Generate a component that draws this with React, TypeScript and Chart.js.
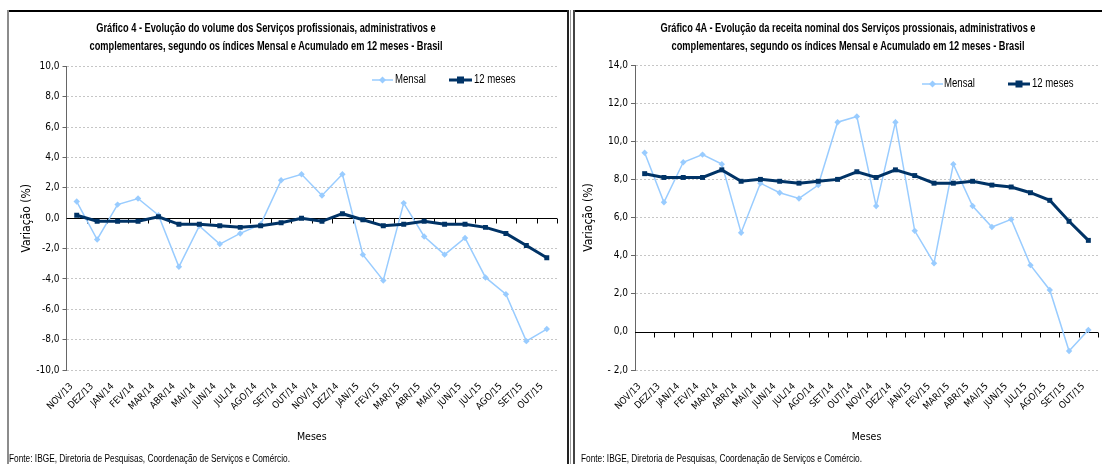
import React, { useEffect, useRef } from "react";
import { Chart, registerables } from "chart.js";

Chart.register(...registerables);

const FONT = "'DejaVu Sans Condensed', 'Liberation Sans', sans-serif";
const HTMLFONT = "'Liberation Sans', Arial, sans-serif";

const months = [
  "NOV/13", "DEZ/13", "JAN/14", "FEV/14", "MAR/14", "ABR/14", "MAI/14", "JUN/14",
  "JUL/14", "AGO/14", "SET/14", "OUT/14", "NOV/14", "DEZ/14", "JAN/15", "FEV/15",
  "MAR/15", "ABR/15", "MAI/15", "JUN/15", "JUL/15", "AGO/15", "SET/15", "OUT/15",
];

// Gráfico 4 - volume
const volumeMensal = [1.1, -1.4, 0.9, 1.3, 0.2, -3.2, -0.5, -1.7, -1.0, -0.4, 2.5, 2.9, 1.5, 2.9, -2.4, -4.1, 1.0, -1.2, -2.4, -1.3, -3.9, -5.0, -8.1, -7.3];
const volume12m = [0.2, -0.2, -0.2, -0.2, 0.1, -0.4, -0.4, -0.5, -0.6, -0.5, -0.3, 0.0, -0.2, 0.3, -0.1, -0.5, -0.4, -0.2, -0.4, -0.4, -0.6, -1.0, -1.8, -2.6];

// Gráfico 4A - receita nominal
const receitaMensal = [9.4, 6.8, 8.9, 9.3, 8.8, 5.2, 7.8, 7.3, 7.0, 7.7, 11.0, 11.3, 6.6, 11.0, 5.3, 3.6, 8.8, 6.6, 5.5, 5.9, 3.5, 2.2, -1.0, 0.1];
const receita12m = [8.3, 8.1, 8.1, 8.1, 8.5, 7.9, 8.0, 7.9, 7.8, 7.9, 8.0, 8.4, 8.1, 8.5, 8.2, 7.8, 7.8, 7.9, 7.7, 7.6, 7.3, 6.9, 5.8, 4.8];

const seriesNames = ["Mensal", "12 meses"];
const yTitle = "Variação (%)";
const xTitle = "Meses";
const titleLeft = ["Gráfico 4 - Evolução do volume dos Serviços profissionais, administrativos e", "complementares, segundo os índices Mensal e Acumulado em 12 meses - Brasil"];
const titleRight = ["Gráfico 4A - Evolução da receita nominal dos Serviços prossionais, administrativos e", "complementares, segundo os índices Mensal e Acumulado em 12 meses - Brasil"];
const fonte = "Fonte: IBGE, Diretoria de Pesquisas, Coordenação de Serviços e Comércio.";

const LIGHT = "#99ccff";
const DARK = "#003366";

type PanelCfg = {
  canvasLeft: number;
  canvasWidth: number;
  yMin: number;
  yMax: number;
  mensal: number[];
  doze: number[];
  yAxisWidth: number;
  yTitlePad: number;
  padTop: number;
  padRight: number;
  spaceNeg: boolean;
  legend: { m0: number; m1: number; mt: number; d0: number; d1: number; dt: number; y: number };
};

const overlayPlugin = {
  id: "overlay",
  beforeDatasetsDraw(chart: any) {
    const { ctx, chartArea: a, scales } = chart;
    const y0 = Math.round(scales.y.getPixelForValue(0)) + 0.5;
    const n = months.length;
    ctx.save();
    ctx.strokeStyle = "#000";
    ctx.lineWidth = 1;
    ctx.setLineDash([]);
    ctx.beginPath();
    ctx.moveTo(a.left, y0);
    ctx.lineTo(a.right, y0);
    for (let i = 1; i <= n; i++) {
      const x = Math.round(a.left + (i * (a.right - a.left)) / n) + 0.5;
      ctx.moveTo(x, y0);
      ctx.lineTo(x, y0 + 5);
    }
    ctx.stroke();
    ctx.restore();
  },
  afterDraw(chart: any, _args: any, opts: any) {
    const L = opts.legend;
    if (!L) return;
    const { ctx } = chart;
    ctx.save();
    // Mensal
    ctx.strokeStyle = LIGHT;
    ctx.lineWidth = 1.5;
    ctx.beginPath();
    ctx.moveTo(L.m0, L.y);
    ctx.lineTo(L.m1, L.y);
    ctx.stroke();
    const mx = (L.m0 + L.m1) / 2;
    ctx.fillStyle = LIGHT;
    ctx.beginPath();
    ctx.moveTo(mx, L.y - 3.5);
    ctx.lineTo(mx + 3.5, L.y);
    ctx.lineTo(mx, L.y + 3.5);
    ctx.lineTo(mx - 3.5, L.y);
    ctx.closePath();
    ctx.fill();
    // 12 meses
    ctx.strokeStyle = DARK;
    ctx.lineWidth = 3;
    ctx.beginPath();
    ctx.moveTo(L.d0, L.y);
    ctx.lineTo(L.d1, L.y);
    ctx.stroke();
    const dx = (L.d0 + L.d1) / 2;
    ctx.fillStyle = DARK;
    ctx.fillRect(dx - 3.5, L.y - 3.5, 7, 7);
    // text (narrow look)
    ctx.fillStyle = "#000";
    ctx.font = `12px ${HTMLFONT}`;
    ctx.textBaseline = "middle";
    ctx.textAlign = "left";
    const sx = 0.8;
    ctx.save();
    ctx.translate(L.mt, L.y);
    ctx.scale(sx, 1);
    ctx.fillText(seriesNames[0], 0, 0);
    ctx.restore();
    ctx.save();
    ctx.translate(L.dt, L.y);
    ctx.scale(sx, 1);
    ctx.fillText(seriesNames[1], 0, 0);
    ctx.restore();
    ctx.restore();
  },
};

function fmt(v: number, spaceNeg: boolean) {
  const s = Math.abs(v).toFixed(1).replace(".", ",");
  if (v < 0) return spaceNeg ? "- " + s : "-" + s;
  return s;
}

function Panel({ cfg }: { cfg: PanelCfg }) {
  const ref = useRef<HTMLCanvasElement | null>(null);
  useEffect(() => {
    if (!ref.current) return;
    const chart = new Chart(ref.current, {
      type: "line",
      data: {
        labels: months,
        datasets: [
          {
            label: seriesNames[1],
            data: cfg.doze,
            borderColor: DARK,
            backgroundColor: DARK,
            borderWidth: 3,
            pointStyle: "rect",
            pointRadius: 3.5,
            pointBorderWidth: 0,
            pointBackgroundColor: DARK,
            tension: 0,
            order: 0,
          },
          {
            label: seriesNames[0],
            data: cfg.mensal,
            borderColor: LIGHT,
            backgroundColor: LIGHT,
            borderWidth: 1.5,
            pointStyle: "rectRot",
            pointRadius: 3.2,
            pointBorderWidth: 0,
            pointBackgroundColor: LIGHT,
            tension: 0,
            order: 1,
          },
        ],
      },
      options: {
        animation: false,
        responsive: false,
        devicePixelRatio: 1,
        layout: { padding: { top: cfg.padTop, right: cfg.padRight, bottom: 20.4, left: 0 } },
        plugins: {
          legend: { display: false },
          tooltip: { enabled: false },
          overlay: { legend: cfg.legend },
        } as any,
        scales: {
          x: {
            type: "category",
            offset: true,
            grid: { display: false },
            border: { display: false },
            ticks: {
              minRotation: 45,
              maxRotation: 45,
              autoSkip: false,
              color: "#000",
              padding: 3,
              labelOffset: -5,
              font: { family: FONT, size: 9.5 },
            },
            title: {
              display: true,
              text: xTitle,
              color: "#000",
              padding: 0,
              font: { family: FONT, size: 10.5 },
            },
            afterFit: (s: any) => {
              s.height = 73.6;
            },
          },
          y: {
            min: cfg.yMin,
            max: cfg.yMax,
            grid: {
              color: "#c6c6c6",
              lineWidth: (c: any) => (c.tick && c.tick.value === 0 ? 0 : 1),
              tickLength: 4,
              tickColor: "#666",
              tickBorderDash: [],
              drawTicks: true,
            } as any,
            border: { display: true, color: "#666", width: 1, dash: [2, 2] } as any,
            ticks: {
              stepSize: 2,
              color: "#000",
              padding: 3,
              font: { family: FONT, size: 10 },
              callback: (v: any) => fmt(Number(v), cfg.spaceNeg),
            },
            title: {
              display: true,
              text: yTitle,
              color: "#000",
              padding: { top: cfg.yTitlePad, bottom: 0 },
              font: { family: FONT, size: 12 },
            },
            afterFit: (s: any) => {
              s.width = cfg.yAxisWidth;
            },
          },
        },
      },
      plugins: [overlayPlugin as any],
    });
    return () => chart.destroy();
  }, [cfg]);
  return (
    <canvas
      ref={ref}
      width={cfg.canvasWidth}
      height={464}
      style={{ position: "absolute", left: cfg.canvasLeft, top: 0, width: cfg.canvasWidth, height: 464 }}
    />
  );
}

const leftCfg: PanelCfg = {
  canvasLeft: 0,
  canvasWidth: 569,
  yMin: -10,
  yMax: 10,
  mensal: volumeMensal,
  doze: volume12m,
  yAxisWidth: 66.5,
  yTitlePad: 20,
  padTop: 66.5,
  padRight: 12,
  spaceNeg: false,
  legend: { m0: 372, m1: 393, mt: 395, d0: 449, d1: 472, dt: 474, y: 80 },
};

const rightCfg: PanelCfg = {
  canvasLeft: 571,
  canvasWidth: 531,
  yMin: -2,
  yMax: 14,
  mensal: receitaMensal,
  doze: receita12m,
  yAxisWidth: 64,
  yTitlePad: 11,
  padTop: 65,
  padRight: 0,
  spaceNeg: true,
  legend: { m0: 351, m1: 372, mt: 373, d0: 437, d1: 459, dt: 461, y: 84 },
};

const titleStyle = (cx: number): React.CSSProperties => ({
  position: "absolute",
  left: cx - 300,
  width: 600,
  top: 19,
  textAlign: "center",
  fontFamily: HTMLFONT,
  fontWeight: "bold",
  fontSize: 12,
  lineHeight: "18px",
  color: "#000",
  whiteSpace: "nowrap",
  transform: "scaleX(0.77)",
  transformOrigin: "50% 50%",
});

const fonteStyle = (x: number): React.CSSProperties => ({
  position: "absolute",
  left: x,
  top: 453,
  fontFamily: HTMLFONT,
  fontSize: 10,
  lineHeight: "12px",
  color: "#000",
  whiteSpace: "nowrap",
  transform: "scaleX(0.83)",
  transformOrigin: "0 50%",
});

export default function App() {
  return (
    <div style={{ position: "absolute", left: 0, top: 0, width: 1102, height: 464, overflow: "hidden", background: "#fff" }}>
      <Panel cfg={leftCfg} />
      <Panel cfg={rightCfg} />
      {/* panel borders */}
      <div style={{ position: "absolute", left: 7, top: 10, width: 562, height: 2, background: "#000" }} />
      <div style={{ position: "absolute", left: 7, top: 10, width: 2, height: 460, background: "#8c8c8c" }} />
      <div style={{ position: "absolute", left: 567, top: 10, width: 1.5, height: 460, background: "#222" }} />
      <div style={{ position: "absolute", left: 570, top: 10, width: 1, height: 460, background: "#9a9a9a" }} />
      <div style={{ position: "absolute", left: 573, top: 10, width: 540, height: 2, background: "#000" }} />
      <div style={{ position: "absolute", left: 573, top: 10, width: 1.5, height: 460, background: "#444" }} />
      <div style={titleStyle(266)}>
        {titleLeft[0]}
        <br />
        {titleLeft[1]}
      </div>
      <div style={titleStyle(848)}>
        {titleRight[0]}
        <br />
        {titleRight[1]}
      </div>
      <div style={fonteStyle(9)}>{fonte}</div>
      <div style={fonteStyle(581)}>{fonte}</div>
    </div>
  );
}
